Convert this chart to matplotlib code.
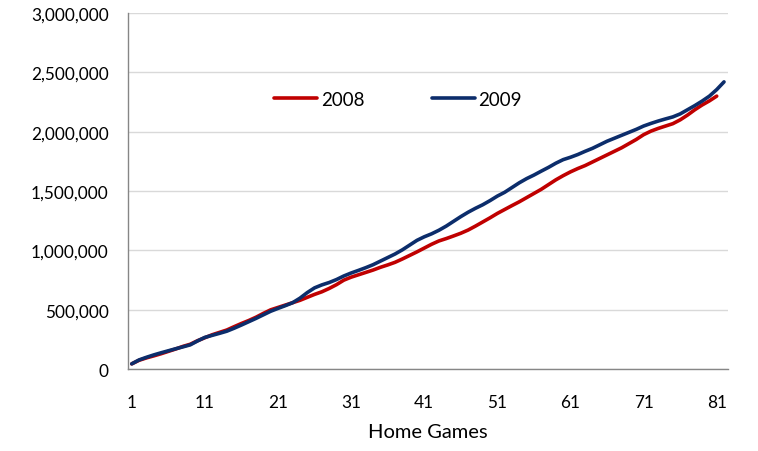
import matplotlib
matplotlib.use("Agg")
import matplotlib.pyplot as plt
from matplotlib.ticker import FuncFormatter

# Cumulative home attendance (thousands)
games_2008 = list(range(1, 82))
att_2008 = [45, 75, 95, 112, 130, 150, 170, 192, 210, 240,
            265, 290, 310, 330, 358, 385, 410, 438, 470, 500,
            520, 540, 560, 580, 605, 630, 652, 680, 712, 750,
            775, 795, 815, 835, 858, 878, 900, 928, 958, 988,
            1020, 1052, 1080, 1100, 1122, 1145, 1172, 1205, 1240, 1275,
            1312, 1345, 1378, 1410, 1445, 1480, 1515, 1555, 1595, 1630,
            1662, 1690, 1715, 1745, 1775, 1805, 1835, 1865, 1900, 1935,
            1975, 2005, 2028, 2048, 2068, 2100, 2140, 2185, 2225, 2260,
            2300]

games_2009 = list(range(1, 83))
att_2009 = [45, 78, 100, 120, 138, 155, 172, 188, 205, 238,
            268, 285, 302, 320, 345, 372, 400, 428, 458, 488,
            512, 535, 560, 598, 645, 685, 710, 730, 755, 785,
            810, 832, 855, 880, 910, 940, 970, 1005, 1045, 1085,
            1115, 1140, 1170, 1205, 1245, 1285, 1322, 1355, 1385, 1420,
            1458, 1490, 1530, 1570, 1605, 1635, 1668, 1700, 1735, 1765,
            1785, 1808, 1835, 1860, 1890, 1920, 1945, 1970, 1995, 2020,
            2048, 2070, 2090, 2108, 2125, 2150, 2185, 2220, 2258, 2300,
            2355, 2420]

x_ticks = [1, 11, 21, 31, 41, 51, 61, 71, 81]
y_ticks = [0, 500000, 1000000, 1500000, 2000000, 2500000, 3000000]

plt.rcParams['font.family'] = ['Lato', 'DejaVu Sans']

fig = plt.figure(figsize=(7.58, 4.52), dpi=100)
ax = fig.add_axes([0.169, 0.181, 0.791, 0.788])

ax.plot(games_2008, [v * 1000 for v in att_2008], color='#c00000', linewidth=2.6,
        solid_capstyle='round', label='2008', zorder=3)
ax.plot(games_2009, [v * 1000 for v in att_2009], color='#0c2d6b', linewidth=2.6,
        solid_capstyle='round', label='2009', zorder=4)

ax.set_xlim(0.5, 82.5)
ax.set_ylim(0, 3000000)
ax.set_xticks(x_ticks)
ax.set_yticks(y_ticks)
ax.yaxis.set_major_formatter(FuncFormatter(lambda v, p: f"{int(v):,}"))
ax.tick_params(axis='both', length=0, labelsize=12.4, colors='black')
ax.tick_params(axis='x', pad=18)
ax.tick_params(axis='y', pad=14)

ax.grid(axis='y', color='#d9d9d9', linewidth=1)
ax.set_axisbelow(True)
for s in ['top', 'right']:
    ax.spines[s].set_visible(False)
for s in ['left', 'bottom']:
    ax.spines[s].set_color('#868686')
    ax.spines[s].set_linewidth(1)

ax.set_xlabel('Home Games', fontsize=14.5, labelpad=9)

ax.legend(loc='center', bbox_to_anchor=(0.45, 0.758), ncol=2, frameon=False,
          fontsize=13.5, handlelength=2.3, handletextpad=0.2, columnspacing=3.6)

fig.savefig('out.png', dpi=100)
